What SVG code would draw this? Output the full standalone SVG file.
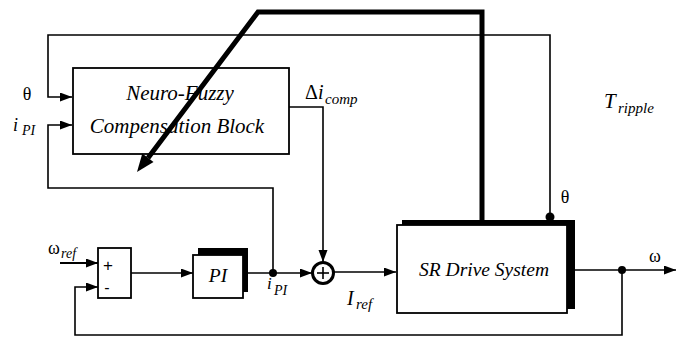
<svg xmlns="http://www.w3.org/2000/svg" width="676" height="338" viewBox="0 0 676 338">
<style>
.ln{fill:none;stroke:#000;stroke-width:1.6}
.thick{fill:none;stroke:#000;stroke-width:5;stroke-linejoin:miter}
.box{fill:#fff;stroke:#000;stroke-width:1.8}
.sh{fill:#000}
.t{font-family:'Liberation Serif','Times New Roman','DejaVu Serif',serif;fill:#000}
.it{font-family:'Liberation Serif','Times New Roman','DejaVu Serif',serif;font-style:italic;fill:#000}
.sans{font-family:'Liberation Sans',Arial,sans-serif;fill:#000}
</style>
<defs>
<marker id="ar" markerUnits="userSpaceOnUse" markerWidth="13" markerHeight="10" refX="12" refY="4.5" orient="auto">
<path d="M0,0 L12,4.5 L0,9 z" fill="#000"/>
</marker>
</defs>
<rect width="676" height="338" fill="#fff"/>
<g id="connectors">
<polyline class="ln" points="550,217 550,35 48,35 48,97 72,97" marker-end="url(#ar)"/>
<polyline class="ln" points="273,273 273,188 48,188 48,125 72,125" marker-end="url(#ar)"/>
<polyline class="ln" points="289,107 323,107 323,262" marker-end="url(#ar)"/>
<line class="ln" x1="60" y1="263" x2="98" y2="263" marker-end="url(#ar)" style="stroke-width:2"/>
<polyline class="ln" points="622,270 622,335 75,335 75,287 98,287" marker-end="url(#ar)"/>
<line class="ln" x1="131" y1="273" x2="193" y2="273" marker-end="url(#ar)"/>
<line class="ln" x1="248" y1="273" x2="312" y2="273" marker-end="url(#ar)"/>
<line class="ln" x1="334" y1="272" x2="396" y2="272" marker-end="url(#ar)"/>
<line class="ln" x1="575" y1="270" x2="676" y2="270" marker-end="url(#ar)"/>
<circle cx="273" cy="273" r="4" fill="#000"/>
<circle cx="550" cy="217" r="4.5" fill="#000"/>
<circle cx="622" cy="270" r="4" fill="#000"/>
<polyline class="thick" points="482,222 482,12 258,12 148,158"/>
<polygon points="137,172 153.5,161.9 142.3,153.4" fill="#000"/>
</g>
<g id="nf-block">
<rect x="73" y="68" width="216" height="86" fill="none" stroke="#000" stroke-width="1.8"/>
<text class="it" x="180" y="100" font-size="21" text-anchor="middle">Neuro-Fuzzy</text>
<text class="it" x="177" y="133" font-size="21" text-anchor="middle">Compensation Block</text>
</g>
<g id="sum-block">
<rect class="box" x="98" y="248" width="33" height="50"/>
<text class="sans" x="108" y="271" font-size="17" text-anchor="middle">+</text>
<text class="sans" x="107" y="293" font-size="16" text-anchor="middle">-</text>
</g>
<g id="pi-block">
<rect class="sh" x="198" y="248" width="50" height="44"/>
<rect class="box" x="193" y="255" width="50" height="43"/>
<text class="it" x="218" y="282" font-size="19.5" text-anchor="middle">PI</text>
</g>
<g id="sum-circle">
<circle cx="323" cy="273" r="10.5" fill="#fff" stroke="#000" stroke-width="3"/>
<line class="ln" x1="317" y1="273" x2="329" y2="273"/>
<line class="ln" x1="323" y1="267" x2="323" y2="279"/>
</g>
<g id="sr-drive">
<rect class="sh" x="402" y="220" width="173" height="89"/>
<rect class="box" x="397" y="225" width="170" height="88"/>
<text class="it" x="484" y="276" font-size="19.5" text-anchor="middle">SR Drive System</text>
</g>
<g id="labels">
<text class="t" x="27" y="100" font-size="18" text-anchor="middle">θ</text>
<text class="it" x="13" y="131" font-size="18">i</text>
<text class="it" x="22" y="135" font-size="14">PI</text>
<text class="t" x="305" y="99" font-size="20">Δ</text>
<text class="it" x="318" y="99" font-size="20">i</text>
<text class="it" x="325" y="104" font-size="15">comp</text>
<text class="it" x="604" y="108" font-size="21">T</text>
<text class="it" x="618" y="113" font-size="15">ripple</text>
<text class="t" x="565" y="203" font-size="18" text-anchor="middle">θ</text>
<text class="t" x="655" y="262" font-size="18" text-anchor="middle">ω</text>
<text class="t" x="48" y="254" font-size="18">ω</text>
<text class="it" x="61" y="258" font-size="14">ref</text>
<text class="it" x="267" y="289" font-size="17">i</text>
<text class="it" x="274" y="295" font-size="14">PI</text>
<text class="it" x="347" y="305" font-size="20">I</text>
<text class="it" x="356" y="309" font-size="15">ref</text>
</g>
</svg>
